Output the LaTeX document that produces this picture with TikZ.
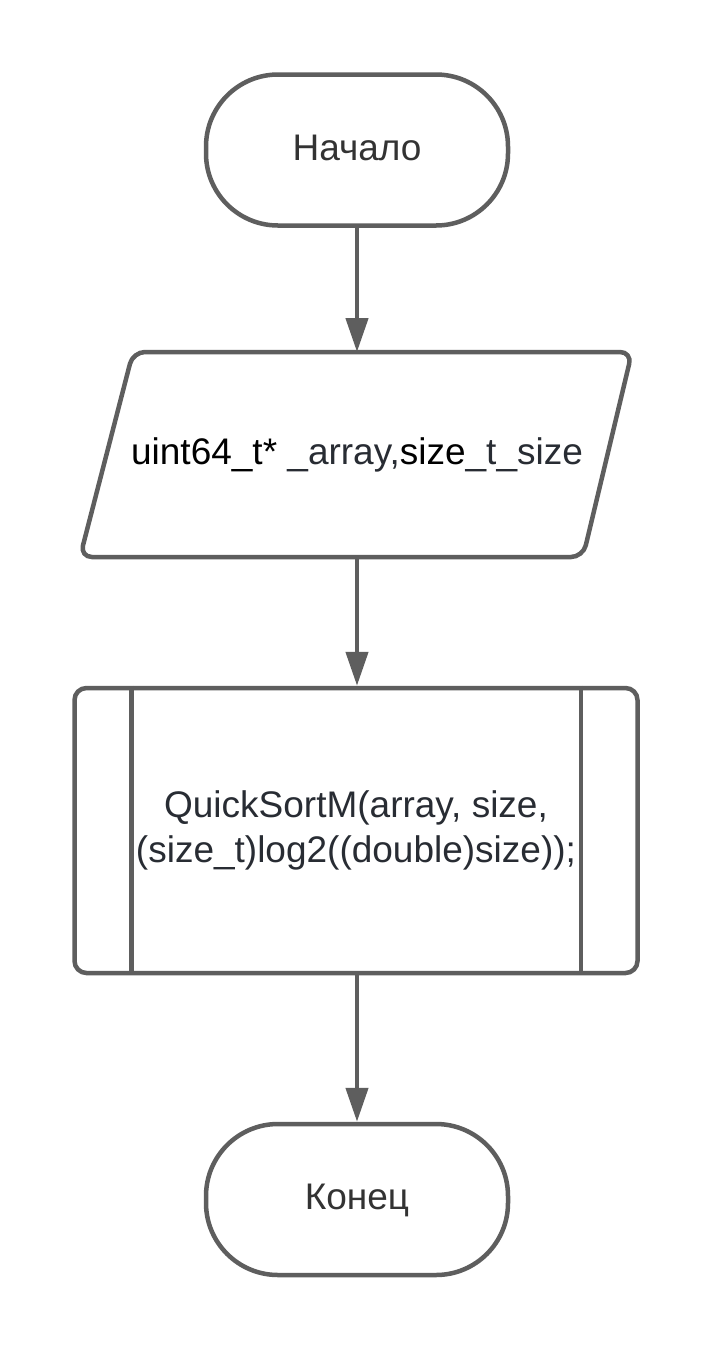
\documentclass[tikz,border=0pt]{standalone}
\usepackage{fontspec}
\setmainfont{Liberation Sans}
\usetikzlibrary{arrows.meta}
\definecolor{lineC}{HTML}{5E5E5E}
\definecolor{txtC}{HTML}{333333}
\definecolor{slate}{HTML}{282C33}
\begin{document}
\begin{tikzpicture}[x=1pt,y=-1pt,
  base/.style={line width=4.5pt, inner sep=0pt, text height=26.5pt, text depth=6pt,
    font=\fontsize{37}{45}\selectfont},
  term/.style={base, draw=lineC, rounded corners=72pt, minimum width=302pt,
    minimum height=151pt, text=txtC},
  iobox/.style={base, outer sep=0pt, minimum width=420pt, minimum height=205pt},
  subbox/.style={base, text height=, text depth=, draw=lineC, rounded corners=12pt,
    minimum width=563pt, minimum height=285pt, align=center, text=slate},
  flow/.style={draw=lineC, line width=4.5pt, -{Triangle[length=34pt,width=22pt]}},
  frame/.style={draw=lineC, line width=4.5pt}
]
\useasboundingbox[fill=white] (0,0) rectangle (713,1350);

\node[term] (start) at (357,150) {Начало};

\node[iobox] (io) at (357,454.5) {{\color{black}uint64\_t*} {\color{slate}\_array,}{\color{black}size}{\color{slate}\_t\_size}};
\draw[frame, rounded corners=12pt] (357,352) -- (632,352) -- (583,557) -- (80,557) -- (133,352) -- cycle;

\node[subbox] (sub) at (356,830.5) {QuickSortM(array, size,\\(size\_t)log2((double)size));};
\draw[frame] ([xshift=59pt]sub.north west) -- ([xshift=59pt]sub.south west);
\draw[frame] ([xshift=-59pt]sub.north east) -- ([xshift=-59pt]sub.south east);

\node[term] (end) at (357,1199.5) {Конец};

\draw[flow] (start.south) -- (io.north);
\draw[flow] (io.south) -- (io.south |- sub.north);
\draw[flow] (sub.south -| end.north) -- (end.north);
\end{tikzpicture}
\end{document}
